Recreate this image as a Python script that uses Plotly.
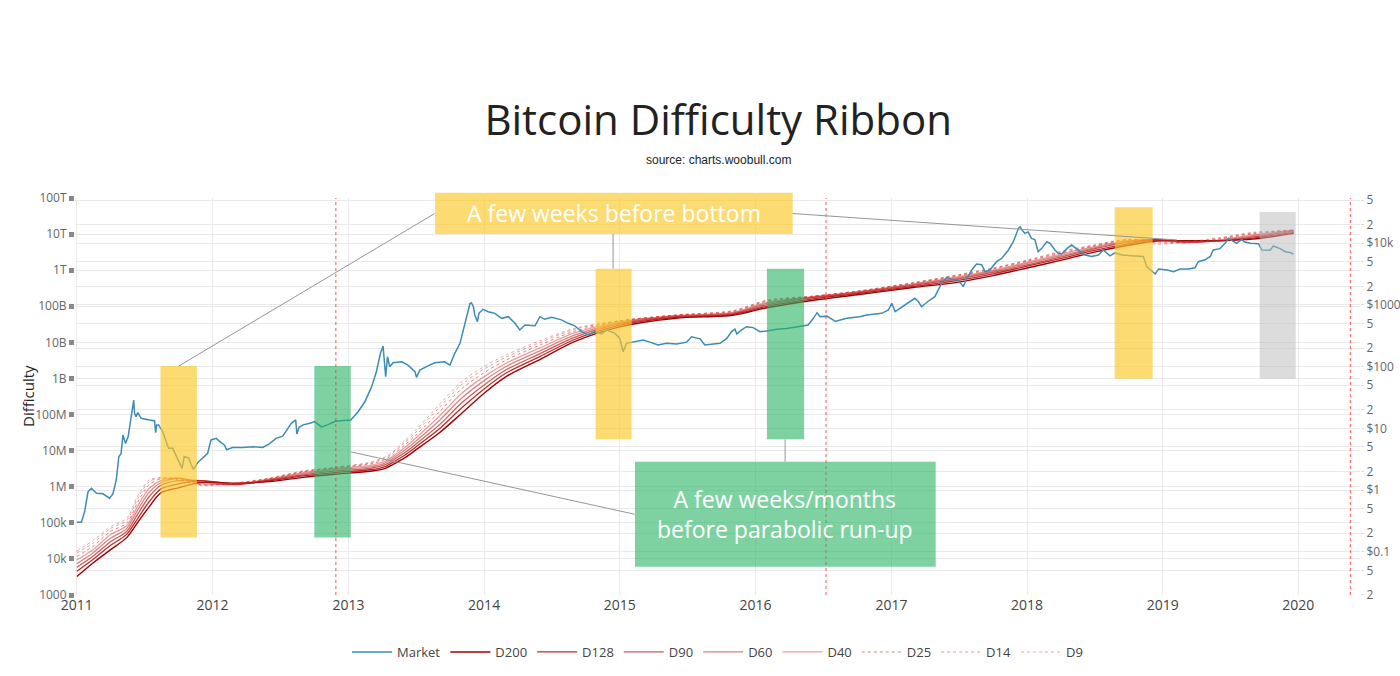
import plotly.graph_objects as go

# ---------------- data ----------------
market_dates = [
    "2011-01-01","2011-01-13","2011-01-22","2011-01-31","2011-02-09","2011-02-23","2011-03-12","2011-03-30",
    "2011-04-08","2011-04-17","2011-04-24","2011-04-30","2011-05-05","2011-05-12","2011-05-19","2011-05-28",
    "2011-06-03","2011-06-05","2011-06-09","2011-06-14","2011-06-23","2011-07-15","2011-07-29","2011-08-01",
    "2011-08-04","2011-08-09","2011-08-20","2011-08-31","2011-09-05","2011-09-16","2011-09-25","2011-10-11",
    "2011-10-17","2011-10-29","2011-11-05","2011-11-11","2011-11-22","2011-12-06","2011-12-19","2011-12-28",
    "2012-01-11","2012-01-24","2012-02-02","2012-02-08","2012-02-24","2012-03-22","2012-04-18","2012-05-15",
    "2012-06-02","2012-06-20","2012-07-08","2012-07-22","2012-07-31","2012-08-12","2012-08-15","2012-08-21",
    "2012-09-01","2012-09-19","2012-10-02","2012-10-20","2012-11-07","2012-11-25","2012-12-09","2013-01-07",
    "2013-01-27","2013-02-14","2013-03-04","2013-03-17","2013-03-28","2013-04-04","2013-04-09","2013-04-11",
    "2013-04-16","2013-04-22","2013-05-01","2013-05-24","2013-06-10","2013-06-29","2013-07-03","2013-07-12",
    "2013-07-30","2013-08-21","2013-09-17","2013-10-01","2013-10-14","2013-10-28","2013-11-06","2013-11-15",
    "2013-11-24","2013-11-28","2013-12-03","2013-12-07","2013-12-14","2013-12-18","2013-12-29","2014-01-12",
    "2014-01-30","2014-02-17","2014-03-07","2014-03-25","2014-04-07","2014-04-21","2014-05-18","2014-05-31",
    "2014-06-13","2014-07-02","2014-07-28","2014-08-15","2014-09-02","2014-09-20","2014-10-08","2014-10-26",
    "2014-11-13","2014-11-27","2014-12-19","2015-01-01","2015-01-10","2015-01-19","2015-02-06","2015-03-05",
    "2015-03-23","2015-04-14","2015-05-07","2015-06-03","2015-06-30","2015-07-13","2015-08-05","2015-08-18",
    "2015-09-10","2015-09-28","2015-10-16","2015-10-29","2015-11-07","2015-11-12","2015-11-25","2015-12-08",
    "2015-12-26","2016-01-13","2016-01-31","2016-02-27","2016-03-25","2016-04-21","2016-05-09","2016-05-22",
    "2016-06-05","2016-06-15","2016-06-23","2016-07-11","2016-07-29","2016-08-02","2016-09-03","2016-10-08",
    "2016-10-26","2016-12-06","2016-12-24","2017-01-02","2017-01-11","2017-01-29","2017-02-15","2017-03-05",
    "2017-03-14","2017-03-23","2017-04-10","2017-04-28","2017-05-16","2017-05-30","2017-06-12","2017-06-30",
    "2017-07-13","2017-07-23","2017-08-05","2017-08-18","2017-09-01","2017-09-10","2017-09-23","2017-10-11",
    "2017-10-25","2017-11-12","2017-11-25","2017-12-09","2017-12-13","2017-12-18","2017-12-26","2018-01-04",
    "2018-01-13","2018-01-22","2018-01-31","2018-02-09","2018-02-23","2018-03-04","2018-03-17","2018-03-26",
    "2018-04-04","2018-04-18","2018-05-01","2018-05-19","2018-06-06","2018-06-24","2018-07-12","2018-07-25",
    "2018-08-12","2018-08-26","2018-09-13","2018-10-10","2018-11-10","2018-11-19","2018-12-03","2018-12-12",
    "2018-12-21","2019-01-13","2019-01-30","2019-02-17","2019-03-11","2019-03-29","2019-04-07","2019-04-25",
    "2019-05-09","2019-05-17","2019-06-04","2019-06-18","2019-06-27","2019-07-06","2019-07-19","2019-08-02",
    "2019-08-08","2019-08-24","2019-09-16","2019-09-25","2019-10-17","2019-10-26","2019-11-13","2019-11-27",
    "2019-12-10","2019-12-19",
]
market_price = [
    0.30,0.30,0.45,0.94,1.07,0.89,0.87,0.74,
    0.87,1.46,3.5,3.9,7.8,5.7,7.3,17.5,
    28.8,18,15.5,18,14.6,13.7,13.3,8.5,
    11.4,11.4,8.9,5.7,4.75,4.75,3.7,2.25,
    3.5,3.3,2.55,2.17,2.78,3.4,3.95,6.5,
    6.9,5.9,5.4,4.5,4.9,4.9,5.05,4.9,
    5.6,6.9,7.5,10,12.1,13.7,8.1,10.4,
    11.4,12.1,12.9,10.6,11.5,12.9,13.3,13.7,
    18.6,27,47,83,165,216,88,69,
    145,100,116,120,106,83,67,88,
    100,116,120,106,165,239,394,646,
    1064,1080,938,689,537,733,851,778,
    733,608,646,505,394,474,460,646,
    586,630,574,505,460,370,327,370,
    339,394,346,288,175,239,250,271,
    250,225,239,234,250,306,283,225,
    234,239,288,370,404,339,394,445,
    430,370,380,404,415,445,460,474,
    608,750,646,660,571,540,608,646,
    689,733,830,1064,778,920,1064,1283,
    1150,938,1150,1365,2249,2812,2600,2550,
    1982,2710,3690,4617,4500,3467,3690,5035,
    5710,7788,10600,17500,18600,16500,14500,15300,
    12000,11500,7310,8200,10600,9980,7788,6880,
    6700,8200,9370,7788,6450,6120,6450,7788,
    6260,7000,6450,6260,6120,4180,3467,3180,
    3840,3690,3467,3840,3840,4000,5035,5400,
    6120,7788,8200,9980,12050,11300,9980,11600,
    10600,9980,9800,7788,7700,9040,8200,7310,
    7100,6700,
]

# Difficulty ribbon, read as log10(difficulty) from the left (log) axis
ribbon_dates = [
    "2011-01-01","2011-02-15","2011-04-01","2011-05-15","2011-06-15","2011-07-15","2011-08-15","2011-10-01",
    "2011-12-01","2012-03-01","2012-06-01","2012-09-01","2012-12-01","2013-03-01","2013-04-10","2013-05-01",
    "2013-06-01","2013-07-01","2013-09-01","2013-11-01","2014-01-01","2014-03-01","2014-06-01","2014-09-01",
    "2015-01-01","2015-06-01","2015-11-01","2016-02-01","2016-06-01","2016-10-01","2017-03-01","2017-07-01",
    "2017-10-01","2018-01-01","2018-04-01","2018-07-01","2018-10-01","2018-12-15","2019-03-01","2019-06-01",
    "2019-09-01","2019-12-20",
]
d9_log10 = [4.22,4.52,4.89,5.12,5.77,6.19,6.26,6.17,6.04,6.10,6.24,6.44,6.55,6.68,6.83,6.97,
            7.27,7.57,8.26,8.91,9.33,9.65,10.05,10.39,10.60,10.76,10.88,11.17,11.28,11.42,11.66,11.88,
            12.06,12.28,12.52,12.70,12.86,12.72,12.78,12.90,13.05,13.11]
d14_log10 = [4.16,4.45,4.84,5.06,5.70,6.14,6.25,6.20,6.05,6.10,6.23,6.43,6.54,6.66,6.80,6.94,
             7.22,7.51,8.18,8.83,9.26,9.59,10.00,10.36,10.60,10.76,10.87,11.16,11.28,11.42,11.65,11.87,
             12.05,12.27,12.50,12.69,12.85,12.76,12.77,12.88,13.03,13.11]
d25_log10 = [4.07,4.36,4.76,4.99,5.60,6.06,6.22,6.23,6.06,6.09,6.22,6.41,6.53,6.63,6.76,6.89,
             7.15,7.43,8.06,8.71,9.16,9.51,9.93,10.31,10.59,10.75,10.85,11.14,11.27,11.41,11.64,11.85,
             12.03,12.25,12.47,12.67,12.84,12.80,12.76,12.86,13.01,13.11]
d40_log10 = [3.97,4.27,4.67,4.92,5.49,5.96,6.17,6.24,6.09,6.07,6.21,6.39,6.51,6.59,6.71,6.84,
             7.08,7.35,7.94,8.58,9.05,9.42,9.85,10.26,10.57,10.74,10.83,11.11,11.26,11.40,11.62,11.82,
             12.00,12.22,12.44,12.65,12.82,12.83,12.76,12.84,12.98,13.11]
d60_log10 = [3.87,4.18,4.57,4.84,5.38,5.85,6.11,6.23,6.13,6.06,6.19,6.36,6.48,6.55,6.66,6.79,
             7.01,7.26,7.82,8.45,8.94,9.33,9.77,10.20,10.54,10.73,10.81,11.08,11.25,11.39,11.60,11.79,
             11.97,12.19,12.40,12.62,12.80,12.85,12.77,12.82,12.95,13.10]
d90_log10 = [3.77,4.09,4.47,4.76,5.26,5.73,6.04,6.17,6.17,6.06,6.18,6.33,6.44,6.51,6.61,6.74,
             6.94,7.18,7.70,8.32,8.82,9.24,9.69,10.14,10.51,10.71,10.79,11.04,11.23,11.37,11.58,11.76,
             11.94,12.15,12.36,12.59,12.77,12.85,12.79,12.81,12.92,13.08]
d128_log10 = [3.66,4.00,4.37,4.68,5.14,5.59,5.94,6.08,6.17,6.08,6.16,6.30,6.40,6.47,6.56,6.68,
              6.87,7.10,7.59,8.18,8.71,9.15,9.61,10.08,10.47,10.69,10.77,11.00,11.20,11.35,11.55,11.72,
              11.90,12.11,12.32,12.55,12.73,12.84,12.81,12.81,12.89,13.05]
d200_log10 = [3.51,3.90,4.25,4.59,5.03,5.45,5.83,5.97,6.12,6.10,6.14,6.26,6.35,6.43,6.51,6.62,
              6.80,7.02,7.48,8.03,8.59,9.05,9.53,10.02,10.43,10.67,10.75,10.96,11.16,11.32,11.52,11.67,
              11.85,12.06,12.27,12.50,12.69,12.81,12.82,12.82,12.86,13.02]

# axis ticks
diff_tickvals = [1e3,1e4,1e5,1e6,1e7,1e8,1e9,1e10,1e11,1e12,1e13,1e14]
diff_ticktext = ["1000","10k","100k","1M","10M","100M","1B","10B","100B","1T","10T","100T"]
price_tickvals = [0.02,0.05,0.1,0.2,0.5,1,2,5,10,20,50,100,200,500,1000,2000,5000,10000,20000,50000]
price_ticktext = ["2","5","$0.1","2","5","$1","2","5","$10","2","5","$100","2","5","$1000","2","5","$10k","2","5"]

halving_dates = ["2012-11-28", "2016-07-09", "2020-05-20"]

# highlighted periods: (start, end, low, high, kind)
periods = [
    ("2011-08-14", "2011-11-20", 3.9e4, 2.2e9, "yellow"),
    ("2012-10-01", "2013-01-07", 3.9e4, 2.2e9, "green"),
    ("2014-10-28", "2015-02-02", 2.06e7, 1.1e12, "yellow"),
    ("2016-02-01", "2016-05-11", 2.06e7, 1.1e12, "green"),
    ("2018-08-25", "2018-12-05", 9.8e8, 5.5e13, "yellow"),
    ("2019-09-19", "2019-12-25", 9.8e8, 4.1e13, "grey"),
]

# ---------------- figure ----------------
fills = {"yellow": "rgb(252,200,40)", "green": "rgb(40,180,100)", "grey": "rgb(185,185,185)"}
fill_opacity = {"yellow": 0.65, "green": 0.6, "grey": 0.5}

fig = go.Figure()

ribbon = [
    ("D200", d200_log10, "rgba(160,0,0,1.0)", "solid", 1.4),
    ("D128", d128_log10, "rgba(170,10,10,0.85)", "solid", 1.3),
    ("D90", d90_log10, "rgba(185,20,20,0.7)", "solid", 1.3),
    ("D60", d60_log10, "rgba(195,30,30,0.55)", "solid", 1.3),
    ("D40", d40_log10, "rgba(205,40,40,0.45)", "solid", 1.3),
    ("D25", d25_log10, "rgba(210,40,40,0.6)", "dot", 1.0),
    ("D14", d14_log10, "rgba(215,50,50,0.5)", "dot", 1.0),
    ("D9", d9_log10, "rgba(220,60,60,0.45)", "dot", 1.0),
]
for rank, (name, vals, color, dash, w) in enumerate(ribbon, start=2):
    fig.add_trace(go.Scatter(
        x=ribbon_dates, y=[10 ** v for v in vals], name=name, mode="lines",
        line=dict(color=color, width=w, dash=dash, shape="spline", smoothing=0.8),
        yaxis="y", legendrank=rank, hoverinfo="skip",
    ))

fig.add_trace(go.Scatter(
    x=market_dates, y=market_price, name="Market", mode="lines",
    line=dict(color="rgb(62,140,182)", width=1.5),
    yaxis="y2", legendrank=1, hoverinfo="skip",
))

shapes = []
for x0, x1, lo, hi, kind in periods:
    shapes.append(dict(type="rect", xref="x", yref="y", x0=x0, x1=x1, y0=lo, y1=hi,
                       fillcolor=fills[kind], opacity=fill_opacity[kind], line=dict(width=0), layer="above"))
for d in halving_dates:
    shapes.append(dict(type="line", xref="x", yref="paper", x0=d, x1=d, y0=0, y1=1,
                       line=dict(color="rgba(235,60,60,0.85)", width=1, dash="dot"), layer="above"))

# callout boxes (paper coordinates)
shapes.append(dict(type="rect", xref="paper", yref="paper", x0=0.2802, x1=0.5585, y0=0.9093, y1=1.0134,
                   fillcolor=fills["yellow"], opacity=0.65, line=dict(width=0), layer="above"))
shapes.append(dict(type="rect", xref="paper", yref="paper", x0=0.4358, x1=0.6698, y0=0.0713, y1=0.3358,
                   fillcolor=fills["green"], opacity=0.6, line=dict(width=0), layer="above"))

# connector lines
connectors = [
    ("2013-08-21", 3.72e13, "2011-10-02", 2.2e9),
    ("2016-04-10", 3.72e13, "2019-02-08", 6.86e12),
    ("2014-12-14", 1.0e13, "2014-12-14", 1.1e12),
    ("2015-02-10", 1.73e5, "2013-01-07", 9.25e6),
    ("2016-03-21", 4.93e6, "2016-03-21", 2.06e7),
]
for xa, ya, xb, yb in connectors:
    shapes.append(dict(type="line", xref="x", yref="y", x0=xa, y0=ya, x1=xb, y1=yb,
                       line=dict(color="rgb(150,150,150)", width=1), layer="above"))

annotations = [
    dict(text="A few weeks before bottom", xref="paper", yref="paper", x=0.4194, y=0.9613,
         xanchor="center", yanchor="middle",
         showarrow=False, font=dict(family="Open Sans", size=23, color="white")),
    dict(text="A few weeks/months<br>before parabolic run-up", xref="paper", yref="paper", x=0.5528, y=0.2036,
         xanchor="center", yanchor="middle",
         showarrow=False, font=dict(family="Open Sans", size=23, color="white")),
    dict(text="source: charts.woobull.com", xref="paper", yref="paper", x=0.5004, y=1.0957,
         xanchor="center", yanchor="middle",
         showarrow=False, font=dict(family="Liberation Sans, Arial", size=12, color="#222")),
    dict(text="Difficulty", xref="paper", yref="paper", x=-0.0366, y=0.5013, textangle=-90,
         xanchor="center", yanchor="middle",
         showarrow=False, font=dict(family="Open Sans", size=15, color="#222")),
]

fig.update_layout(
    width=1400, height=676,
    margin=dict(l=75, r=40, t=198, b=81, autoexpand=False),
    paper_bgcolor="white", plot_bgcolor="white",
    font=dict(family="Open Sans", color="#444"),
    title=dict(text="Bitcoin Difficulty Ribbon", x=0.513, xanchor="center", y=1 - 120 / 676, yanchor="middle",
               font=dict(family="Open Sans", size=42, color="#222")),
    xaxis=dict(type="date", range=["2010-12-27", "2020-06-15"], dtick="M12", tickformat="%Y",
               showgrid=True, gridcolor="#eaeaea", zeroline=False, showline=False, ticks="",
               tickfont=dict(size=14, color="#444"), automargin=False),
    yaxis=dict(type="log", range=[3, 14], tickmode="array", tickvals=diff_tickvals, ticktext=diff_ticktext,
               ticks="outside", ticklen=5, tickwidth=5, tickcolor="#888", gridcolor="#eaeaea",
               showline=False, zeroline=False, tickfont=dict(size=12, color="#666"), automargin=False),
    yaxis2=dict(type="log", overlaying="y", side="right", range=[-1.70, 4.734], tickmode="array",
                tickvals=price_tickvals, ticktext=price_ticktext, ticks="outside", ticklen=3, tickcolor="#ddd",
                gridcolor="#eaeaea", showline=False, zeroline=False, tickfont=dict(size=12, color="#666"),
                automargin=False),
    legend=dict(orientation="h", x=0.5, xanchor="center", y=-0.1436, yanchor="middle",
                font=dict(size=13, color="#444"), itemwidth=40),
    shapes=shapes, annotations=annotations, hovermode=False,
)

fig.write_html("out.html")
